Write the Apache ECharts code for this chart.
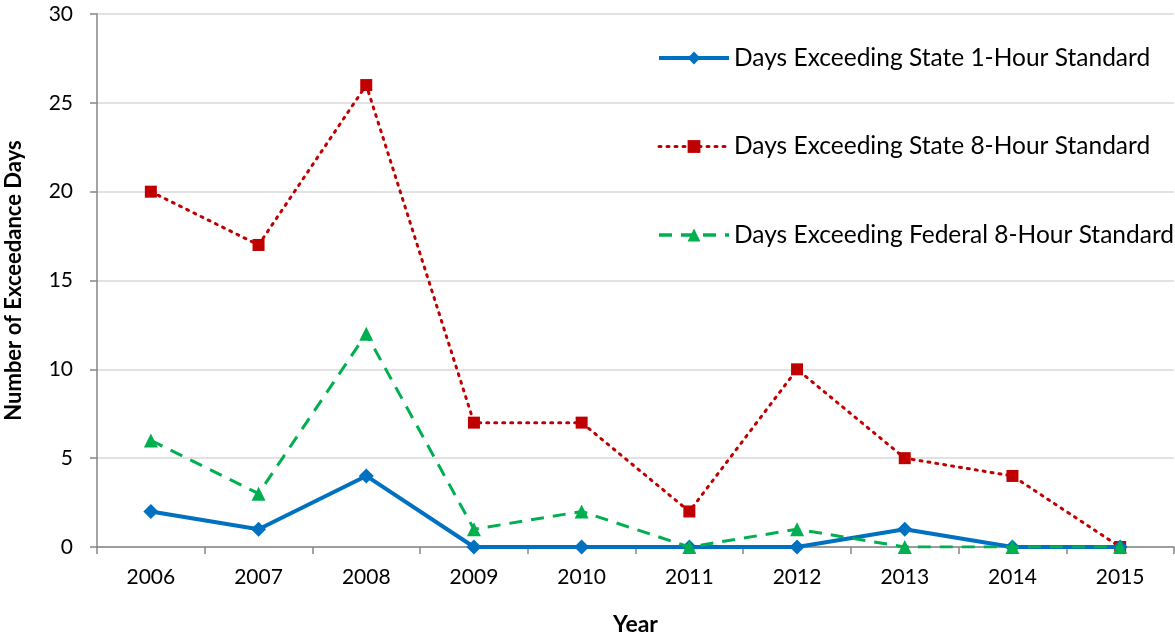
<!DOCTYPE html>
<html>
<head>
<meta charset="utf-8">
<script src="https://cdn.jsdelivr.net/npm/echarts@6/dist/echarts.min.js"></script>
<style>
  html, body { margin: 0; padding: 0; background: #fff; }
  #chart { width: 1175px; height: 637px; }
</style>
</head>
<body>
<div id="chart"></div>
<script>
const years = ['2006', '2007', '2008', '2009', '2010', '2011', '2012', '2013', '2014', '2015']
const state1Hour = [2, 1, 4, 0, 0, 0, 0, 1, 0, 0]
const state8Hour = [20, 17, 26, 7, 7, 2, 10, 5, 4, 0]
const federal8Hour = [6, 3, 12, 1, 2, 0, 1, 0, 0, 0]

const FONT = 'Lato, "Open Sans", sans-serif'
const axisGray = '#868686'

const chart = echarts.init(document.getElementById('chart'))
chart.setOption({
  animation: false,
  backgroundColor: '#fff',
  textStyle: { fontFamily: FONT },
  grid: { left: 97, right: 1, top: 14, bottom: 90, outerBoundsMode: 'none', containLabel: false },
  legend: {
    orient: 'vertical',
    left: 652,
    top: 40,
    itemWidth: 70,
    itemHeight: 16,
    itemGap: 62.5,
    data: [
      { name: 'Days Exceeding State 1-Hour Standard', lineStyle: { width: 4 } },
      { name: 'Days Exceeding State 8-Hour Standard', lineStyle: { width: 3 } },
      { name: 'Days Exceeding Federal 8-Hour Standard', lineStyle: { width: 3.5 } },
    ],
    textStyle: { fontFamily: FONT, fontSize: 24.5, color: '#000', lineHeight: 26 },
  },
  xAxis: {
    type: 'category',
    data: years,
    boundaryGap: true,
    name: 'Year',
    nameLocation: 'middle',
    nameGap: 66,
    nameTextStyle: { fontFamily: FONT, fontSize: 23, fontWeight: 'bold', color: '#000' },
    axisLine: { lineStyle: { color: axisGray, width: 1.5 } },
    axisTick: { show: true, length: 7, lineStyle: { color: axisGray, width: 1.5 } },
    axisLabel: { color: '#000', fontSize: 21, margin: 20, fontFamily: FONT },
  },
  yAxis: {
    type: 'value',
    min: 0,
    max: 30,
    interval: 5,
    name: 'Number of Exceedance Days',
    nameLocation: 'middle',
    nameGap: 72,
    nameTextStyle: { fontFamily: FONT, fontSize: 22, fontWeight: 'bold', color: '#000' },
    axisLine: { show: true, lineStyle: { color: axisGray, width: 1.5 } },
    axisTick: { show: true, length: 7, lineStyle: { color: axisGray, width: 1.5 } },
    axisLabel: { color: '#000', fontSize: 21, margin: 24, fontFamily: FONT },
    splitLine: { lineStyle: { color: '#d9d9d9', width: 1.5 } },
  },
  series: [
    {
      name: 'Days Exceeding State 1-Hour Standard',
      type: 'line',
      data: state1Hour,
      z: 3,
      symbol: 'diamond',
      symbolSize: 15,
      color: '#0070c0',
      lineStyle: { color: '#0070c0', width: 4 },
      itemStyle: { color: '#0070c0' },
    },
    {
      name: 'Days Exceeding State 8-Hour Standard',
      type: 'line',
      data: state8Hour,
      z: 2,
      symbol: 'rect',
      symbolSize: 12,
      color: '#c00000',
      lineStyle: { color: '#c00000', width: 3, type: [2, 6], cap: 'round' },
      itemStyle: { color: '#c00000' },
    },
    {
      name: 'Days Exceeding Federal 8-Hour Standard',
      type: 'line',
      data: federal8Hour,
      z: 4,
      symbol: 'triangle',
      symbolSize: 14,
      color: '#00b050',
      lineStyle: { color: '#00b050', width: 3, type: [13, 9] },
      itemStyle: { color: '#00b050' },
    },
  ],
})
</script>
</body>
</html>
